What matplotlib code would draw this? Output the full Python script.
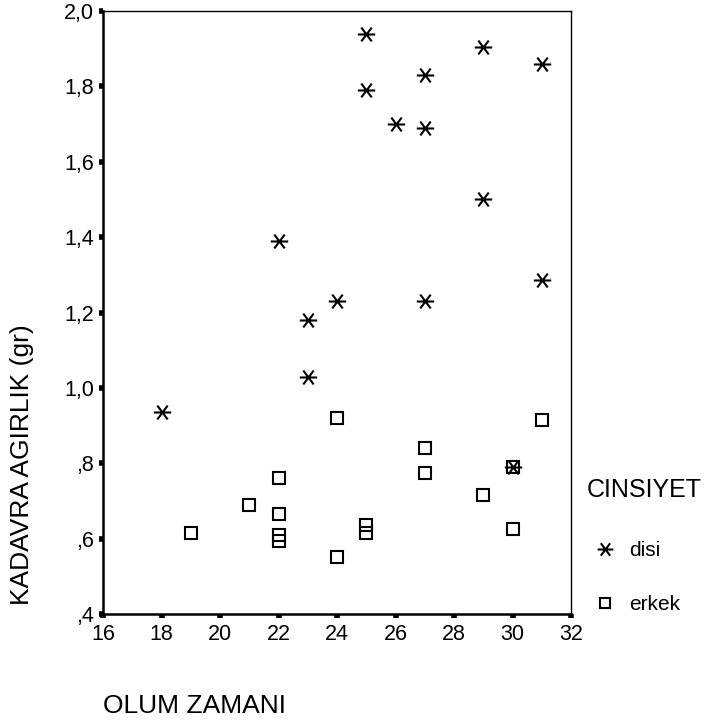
import matplotlib
matplotlib.use("Agg")
import matplotlib.pyplot as plt
from matplotlib.path import Path

plt.rcParams['font.family'] = ['Liberation Sans', 'DejaVu Sans']

# OLUM ZAMANI vs KADAVRA AGIRLIK, split by CINSIYET
disi_x = [25, 25, 29, 27, 31, 26, 27, 29, 22, 24, 27, 31, 23, 23, 18, 30]
disi_y = [1.94, 1.79, 1.905, 1.83, 1.86, 1.70, 1.69, 1.50, 1.39, 1.23, 1.23,
          1.285, 1.18, 1.03, 0.935, 0.79]

erkek_x = [24, 19, 21, 22, 22, 22, 22, 24, 25, 25, 27, 27, 29, 30, 30, 31]
erkek_y = [0.92, 0.615, 0.69, 0.76, 0.665, 0.61, 0.595, 0.55, 0.635, 0.615,
           0.84, 0.775, 0.715, 0.79, 0.625, 0.915]

x_ticks = [16, 18, 20, 22, 24, 26, 28, 30, 32]
y_ticks = [0.4, 0.6, 0.8, 1.0, 1.2, 1.4, 1.6, 1.8, 2.0]
y_tick_labels = [',4', ',6', ',8', '1,0', '1,2', '1,4', '1,6', '1,8', '2,0']

# SPSS style asterisk: horizontal bar plus two steep diagonals
star = Path([(-1, 0), (1, 0), (-0.6, -0.8), (0.6, 0.8), (-0.6, 0.8), (0.6, -0.8)],
            [Path.MOVETO, Path.LINETO, Path.MOVETO, Path.LINETO,
             Path.MOVETO, Path.LINETO])

fig = plt.figure(figsize=(7.12, 7.2), dpi=100)
ax = fig.add_axes([103 / 712, 1 - 614 / 720, 468 / 712, 603 / 720])

ax.plot(disi_x, disi_y, linestyle='none', marker=star, ms=12.5,
        mew=1.5, color='black', label='disi', clip_on=False)
ax.plot(erkek_x, erkek_y, linestyle='none', marker='s', ms=8.2,
        mew=1.5, mfc='none', mec='black', label='erkek', clip_on=False)

ax.set_xlim(16, 32)
ax.set_ylim(0.4, 2.0)
ax.set_xticks(x_ticks)
ax.set_yticks(y_ticks)
ax.set_yticklabels(y_tick_labels)
ax.tick_params(direction='out', length=3, width=4, labelsize=15.5,
               colors='black')
ax.tick_params(axis='y', pad=3.5)
ax.tick_params(axis='x', pad=4.5)

ax.spines['left'].set_linewidth(1.8)
ax.spines['bottom'].set_linewidth(1.8)
ax.spines['top'].set_linewidth(1.0)
ax.spines['right'].set_linewidth(1.0)

ax.set_xlabel('OLUM ZAMANI', fontsize=19, loc='left', va='top')
ax.xaxis.set_label_coords(0.0, -0.132)
ax.set_ylabel('KADAVRA AGIRLIK (gr)', fontsize=19, va='center')
ax.yaxis.set_label_coords(-0.173, 0.247)

leg = ax.legend(title='CINSIYET', loc='upper left',
                bbox_to_anchor=(587 / 712, 1 - 478 / 720),
                bbox_transform=fig.transFigure, frameon=False,
                fontsize=15, title_fontsize=18, alignment='left',
                markerscale=0.9, handlelength=1.7, handletextpad=0.3,
                labelspacing=1.7, borderpad=0, borderaxespad=0)
leg._legend_box.sep = 28

fig.savefig('out.png', dpi=100)
